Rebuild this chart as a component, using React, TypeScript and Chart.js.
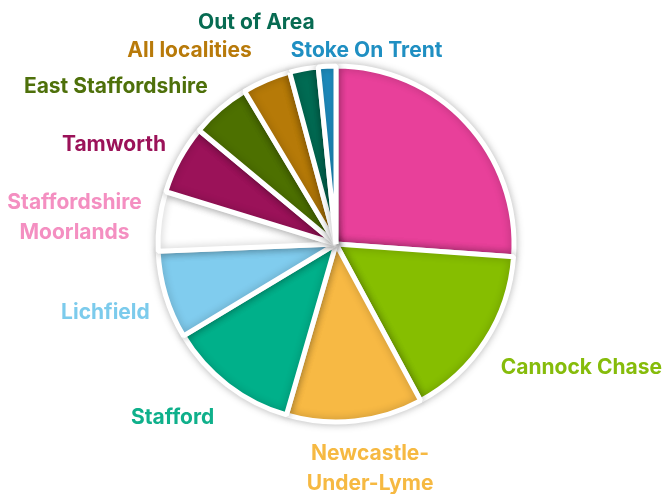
import React, { useEffect, useRef } from "react";
import { Chart, registerables } from "chart.js";

Chart.register(...registerables);

const categories = [
  "Staffordshire –\nunspecified",
  "Cannock Chase",
  "Newcastle-\nUnder-Lyme",
  "Stafford",
  "Lichfield",
  "Staffordshire\nMoorlands",
  "Tamworth",
  "East Staffordshire",
  "All localities",
  "Out of Area",
  "Stoke On Trent",
];
const values = [26.2, 16.0, 12.4, 11.9, 8.0, 5.4, 6.3, 5.4, 4.4, 2.6, 1.6];
const sliceColors = [
  "#e8409a", "#86be00", "#f7b944", "#00b08a", "#80ccee", "#ffffff",
  "#9b1259", "#4d7000", "#b67a08", "#006b53", "#1e8ec1",
];
const labelColors = [
  "#e8409a", "#86bc0b", "#f6b942", "#0fb08b", "#7ccbec", "#f48fc1",
  "#9b1259", "#4e700a", "#b87a0a", "#076b52", "#1f8fc2",
];
const labelNudgeX = [173, -10, 12, 5, 13, 12, 13, 7, -3, -42, 41];
const labelNudgeY = [55, 11, 18, 9, 9, 0, 0, 1, -2, -17, 14];

const FONT = "700 21px Inter";
const LINE_H = 30;

const labelPlugin = {
  id: "outerLabels",
  beforeDatasetsDraw(chart: any) {
    const ctx = chart.ctx;
    ctx.save();
    ctx.shadowColor = "rgba(0,0,0,0.24)";
    ctx.shadowBlur = 9;
    ctx.shadowOffsetX = 0;
    ctx.shadowOffsetY = 0;
  },
  afterDatasetsDraw(chart: any) {
    const ctx = chart.ctx;
    ctx.restore();
    const meta = chart.getDatasetMeta(0);
    ctx.save();
    ctx.font = FONT;
    ctx.textBaseline = "middle";
    ctx.textAlign = "center";
    meta.data.forEach((arc: any, i: number) => {
      const { x, y, startAngle, endAngle, outerRadius } = arc.getProps(
        ["x", "y", "startAngle", "endAngle", "outerRadius"],
        true
      );
      const mid = (startAngle + endAngle) / 2;
      const c = Math.cos(mid);
      const s = Math.sin(mid);
      const R = outerRadius + 30;
      const ax = x + c * R + labelNudgeX[i];
      const ay = y + s * R + labelNudgeY[i];
      const lines = categories[i].split("\n");
      const w = Math.max(...lines.map((l) => ctx.measureText(l).width));
      let left: number;
      if (c > 0.3) left = ax;
      else if (c < -0.3) left = ax - w;
      else left = ax - w / 2;
      const top = ay - ((lines.length - 1) * LINE_H) / 2;
      ctx.fillStyle = labelColors[i];
      lines.forEach((l, j) => {
        ctx.fillText(l, left + w / 2, top + j * LINE_H);
      });
    });
    ctx.restore();
  },
};

export default function App() {
  const ref = useRef<HTMLCanvasElement>(null);
  useEffect(() => {
    document.body.style.margin = "0";
    const chart = new Chart(ref.current as HTMLCanvasElement, {
      type: "pie",
      data: {
        labels: categories,
        datasets: [
          {
            data: values,
            backgroundColor: sliceColors,
            borderColor: "#ffffff",
            borderWidth: 5,
            radius: 178,
          } as any,
        ],
      },
      options: {
        responsive: false,
        animation: false,
        layout: { padding: { left: 10, right: 0, top: 0, bottom: 6 } },
        plugins: {
          legend: { display: false },
          tooltip: { enabled: false },
        },
      },
      plugins: [labelPlugin],
    });
    return () => chart.destroy();
  }, []);
  return (
    <div style={{ width: 662, height: 494, background: "#ffffff" }}>
      <canvas ref={ref} width={662} height={494} />
    </div>
  );
}
